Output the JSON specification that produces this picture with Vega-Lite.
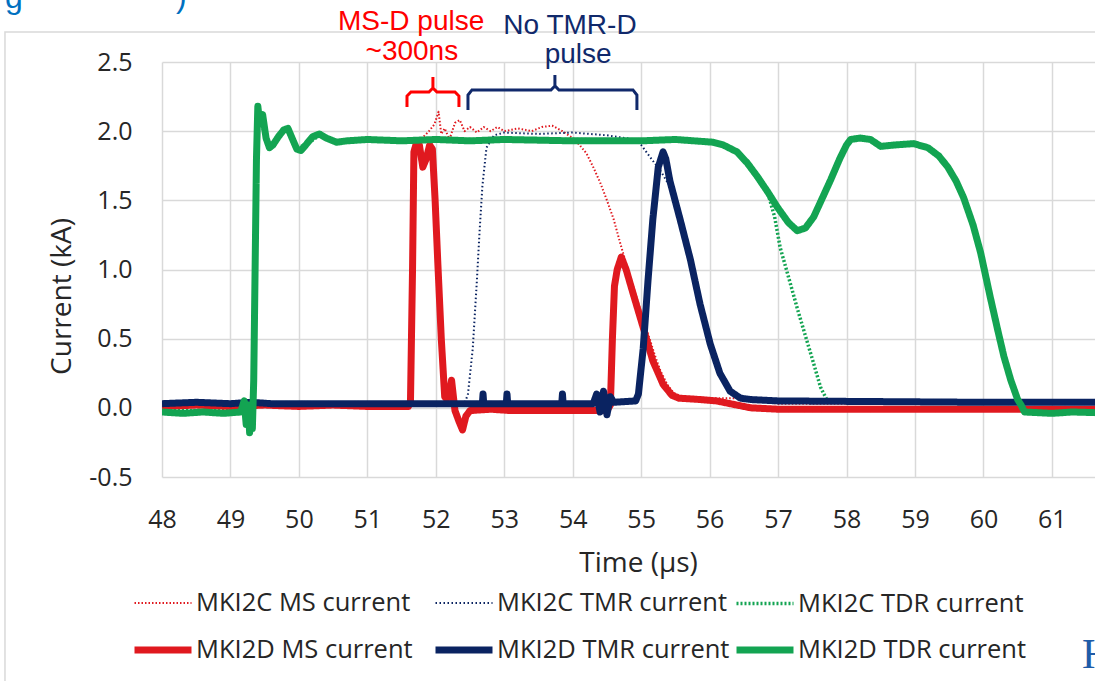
{
  "$schema": "https://vega.github.io/schema/vega-lite/v6.json",
  "width": 933,
  "height": 415,
  "autosize": {"type": "none"},
  "padding": {"left": 162, "top": 62, "right": 0, "bottom": 204},
  "background": "#ffffff",
  "config": {
    "view": {"stroke": null},
    "axis": {
      "domain": false,
      "ticks": false,
      "tickSize": 0,
      "grid": true,
      "gridColor": "#D9D9D9",
      "gridWidth": 1.5,
      "labelFont": "Open Sans",
      "labelFontSize": 25,
      "labelColor": "#262626",
      "labelFlush": false,
      "labelOverlap": false,
      "titleFont": "Open Sans",
      "titleFontSize": 28,
      "titleFontWeight": "normal",
      "titleColor": "#262626"
    }
  },
  "datasets": {
    "traces": [
      {"s": "MKI2C MS current", "t": 48.0, "v": 0.02},
      {"s": "MKI2C MS current", "t": 49.0, "v": 0.02},
      {"s": "MKI2C MS current", "t": 50.0, "v": 0.02},
      {"s": "MKI2C MS current", "t": 51.0, "v": 0.02},
      {"s": "MKI2C MS current", "t": 51.6, "v": 0.02},
      {"s": "MKI2C MS current", "t": 51.66, "v": 0.8},
      {"s": "MKI2C MS current", "t": 51.7, "v": 1.88},
      {"s": "MKI2C MS current", "t": 51.8, "v": 1.95},
      {"s": "MKI2C MS current", "t": 51.9, "v": 2.0},
      {"s": "MKI2C MS current", "t": 51.98, "v": 2.05},
      {"s": "MKI2C MS current", "t": 52.04, "v": 2.14},
      {"s": "MKI2C MS current", "t": 52.08, "v": 1.98},
      {"s": "MKI2C MS current", "t": 52.13, "v": 2.02},
      {"s": "MKI2C MS current", "t": 52.2, "v": 1.94},
      {"s": "MKI2C MS current", "t": 52.28, "v": 2.06},
      {"s": "MKI2C MS current", "t": 52.35, "v": 2.08},
      {"s": "MKI2C MS current", "t": 52.42, "v": 2.0},
      {"s": "MKI2C MS current", "t": 52.5, "v": 2.03},
      {"s": "MKI2C MS current", "t": 52.6, "v": 1.99},
      {"s": "MKI2C MS current", "t": 52.7, "v": 2.03},
      {"s": "MKI2C MS current", "t": 52.8, "v": 2.0},
      {"s": "MKI2C MS current", "t": 52.9, "v": 2.03},
      {"s": "MKI2C MS current", "t": 53.0, "v": 2.0},
      {"s": "MKI2C MS current", "t": 53.2, "v": 2.02},
      {"s": "MKI2C MS current", "t": 53.4, "v": 2.0},
      {"s": "MKI2C MS current", "t": 53.55, "v": 2.03},
      {"s": "MKI2C MS current", "t": 53.7, "v": 2.04},
      {"s": "MKI2C MS current", "t": 53.85, "v": 2.0},
      {"s": "MKI2C MS current", "t": 54.0, "v": 1.95},
      {"s": "MKI2C MS current", "t": 54.1, "v": 1.9},
      {"s": "MKI2C MS current", "t": 54.2, "v": 1.84},
      {"s": "MKI2C MS current", "t": 54.3, "v": 1.74},
      {"s": "MKI2C MS current", "t": 54.4, "v": 1.63},
      {"s": "MKI2C MS current", "t": 54.5, "v": 1.5},
      {"s": "MKI2C MS current", "t": 54.6, "v": 1.36},
      {"s": "MKI2C MS current", "t": 54.7, "v": 1.18},
      {"s": "MKI2C MS current", "t": 54.8, "v": 1.01},
      {"s": "MKI2C MS current", "t": 54.9, "v": 0.85},
      {"s": "MKI2C MS current", "t": 54.98, "v": 0.72},
      {"s": "MKI2C MS current", "t": 55.05, "v": 0.6},
      {"s": "MKI2C MS current", "t": 55.13, "v": 0.49},
      {"s": "MKI2C MS current", "t": 55.2, "v": 0.38},
      {"s": "MKI2C MS current", "t": 55.28, "v": 0.27},
      {"s": "MKI2C MS current", "t": 55.38, "v": 0.17},
      {"s": "MKI2C MS current", "t": 55.47, "v": 0.11},
      {"s": "MKI2C MS current", "t": 55.6, "v": 0.08},
      {"s": "MKI2C MS current", "t": 56.0, "v": 0.07},
      {"s": "MKI2C MS current", "t": 56.4, "v": 0.07},
      {"s": "MKI2C MS current", "t": 56.7, "v": 0.05},
      {"s": "MKI2C MS current", "t": 57.0, "v": 0.03},
      {"s": "MKI2C MS current", "t": 62.0, "v": 0.03},

      {"s": "MKI2C TMR current", "t": 48.0, "v": 0.03},
      {"s": "MKI2C TMR current", "t": 50.0, "v": 0.03},
      {"s": "MKI2C TMR current", "t": 52.0, "v": 0.03},
      {"s": "MKI2C TMR current", "t": 52.42, "v": 0.03},
      {"s": "MKI2C TMR current", "t": 52.47, "v": 0.1},
      {"s": "MKI2C TMR current", "t": 52.54, "v": 0.43},
      {"s": "MKI2C TMR current", "t": 52.6, "v": 0.92},
      {"s": "MKI2C TMR current", "t": 52.64, "v": 1.28},
      {"s": "MKI2C TMR current", "t": 52.68, "v": 1.6},
      {"s": "MKI2C TMR current", "t": 52.74, "v": 1.88},
      {"s": "MKI2C TMR current", "t": 52.85, "v": 1.97},
      {"s": "MKI2C TMR current", "t": 53.0, "v": 1.99},
      {"s": "MKI2C TMR current", "t": 53.5, "v": 1.98},
      {"s": "MKI2C TMR current", "t": 54.0, "v": 1.99},
      {"s": "MKI2C TMR current", "t": 54.5, "v": 1.97},
      {"s": "MKI2C TMR current", "t": 54.9, "v": 1.94},
      {"s": "MKI2C TMR current", "t": 55.0, "v": 1.9},
      {"s": "MKI2C TMR current", "t": 55.15, "v": 1.8},
      {"s": "MKI2C TMR current", "t": 55.3, "v": 1.7},
      {"s": "MKI2C TMR current", "t": 55.42, "v": 1.6},
      {"s": "MKI2C TMR current", "t": 55.57, "v": 1.34},
      {"s": "MKI2C TMR current", "t": 55.72, "v": 1.05},
      {"s": "MKI2C TMR current", "t": 55.86, "v": 0.74},
      {"s": "MKI2C TMR current", "t": 56.01, "v": 0.45},
      {"s": "MKI2C TMR current", "t": 56.15, "v": 0.24},
      {"s": "MKI2C TMR current", "t": 56.3, "v": 0.11},
      {"s": "MKI2C TMR current", "t": 56.45, "v": 0.07},
      {"s": "MKI2C TMR current", "t": 56.6, "v": 0.06},
      {"s": "MKI2C TMR current", "t": 58.0, "v": 0.05},
      {"s": "MKI2C TMR current", "t": 62.0, "v": 0.05},

      {"s": "MKI2C TDR current", "t": 48.0, "v": -0.02},
      {"s": "MKI2C TDR current", "t": 49.15, "v": -0.02},
      {"s": "MKI2C TDR current", "t": 49.3, "v": -0.1},
      {"s": "MKI2C TDR current", "t": 49.34, "v": 0.2},
      {"s": "MKI2C TDR current", "t": 49.36, "v": 1.0},
      {"s": "MKI2C TDR current", "t": 49.38, "v": 1.8},
      {"s": "MKI2C TDR current", "t": 49.4, "v": 2.15},
      {"s": "MKI2C TDR current", "t": 49.45, "v": 2.05},
      {"s": "MKI2C TDR current", "t": 49.52, "v": 1.96},
      {"s": "MKI2C TDR current", "t": 49.57, "v": 1.89},
      {"s": "MKI2C TDR current", "t": 49.7, "v": 1.96},
      {"s": "MKI2C TDR current", "t": 49.82, "v": 2.01},
      {"s": "MKI2C TDR current", "t": 49.97, "v": 1.88},
      {"s": "MKI2C TDR current", "t": 50.1, "v": 1.9},
      {"s": "MKI2C TDR current", "t": 50.3, "v": 1.97},
      {"s": "MKI2C TDR current", "t": 50.5, "v": 1.93},
      {"s": "MKI2C TDR current", "t": 52.0, "v": 1.94},
      {"s": "MKI2C TDR current", "t": 54.0, "v": 1.94},
      {"s": "MKI2C TDR current", "t": 56.05, "v": 1.93},
      {"s": "MKI2C TDR current", "t": 56.4, "v": 1.86},
      {"s": "MKI2C TDR current", "t": 56.7, "v": 1.68},
      {"s": "MKI2C TDR current", "t": 56.84, "v": 1.57},
      {"s": "MKI2C TDR current", "t": 56.95, "v": 1.38},
      {"s": "MKI2C TDR current", "t": 57.03, "v": 1.16},
      {"s": "MKI2C TDR current", "t": 57.15, "v": 0.95},
      {"s": "MKI2C TDR current", "t": 57.28, "v": 0.72},
      {"s": "MKI2C TDR current", "t": 57.4, "v": 0.52},
      {"s": "MKI2C TDR current", "t": 57.52, "v": 0.32},
      {"s": "MKI2C TDR current", "t": 57.62, "v": 0.15},
      {"s": "MKI2C TDR current", "t": 57.72, "v": 0.05},
      {"s": "MKI2C TDR current", "t": 57.8, "v": 0.04},
      {"s": "MKI2C TDR current", "t": 62.0, "v": 0.04},

      {"s": "MKI2D MS current", "t": 48.0, "v": 0.01},
      {"s": "MKI2D MS current", "t": 48.5, "v": 0.02},
      {"s": "MKI2D MS current", "t": 49.0, "v": 0.01},
      {"s": "MKI2D MS current", "t": 49.5, "v": 0.02},
      {"s": "MKI2D MS current", "t": 50.0, "v": 0.01},
      {"s": "MKI2D MS current", "t": 50.5, "v": 0.02},
      {"s": "MKI2D MS current", "t": 51.0, "v": 0.01},
      {"s": "MKI2D MS current", "t": 51.6, "v": 0.01},
      {"s": "MKI2D MS current", "t": 51.63, "v": 0.05},
      {"s": "MKI2D MS current", "t": 51.66, "v": 1.0},
      {"s": "MKI2D MS current", "t": 51.68, "v": 1.85},
      {"s": "MKI2D MS current", "t": 51.72, "v": 1.92},
      {"s": "MKI2D MS current", "t": 51.76, "v": 1.9},
      {"s": "MKI2D MS current", "t": 51.81, "v": 1.74},
      {"s": "MKI2D MS current", "t": 51.86, "v": 1.8},
      {"s": "MKI2D MS current", "t": 51.91, "v": 1.9},
      {"s": "MKI2D MS current", "t": 51.95, "v": 1.87},
      {"s": "MKI2D MS current", "t": 51.99, "v": 1.5},
      {"s": "MKI2D MS current", "t": 52.03, "v": 1.04},
      {"s": "MKI2D MS current", "t": 52.08, "v": 0.5},
      {"s": "MKI2D MS current", "t": 52.13, "v": 0.08},
      {"s": "MKI2D MS current", "t": 52.18, "v": 0.05},
      {"s": "MKI2D MS current", "t": 52.23, "v": 0.2},
      {"s": "MKI2D MS current", "t": 52.28, "v": -0.02},
      {"s": "MKI2D MS current", "t": 52.34, "v": -0.1},
      {"s": "MKI2D MS current", "t": 52.39, "v": -0.16},
      {"s": "MKI2D MS current", "t": 52.44, "v": -0.06},
      {"s": "MKI2D MS current", "t": 52.5, "v": -0.02},
      {"s": "MKI2D MS current", "t": 52.8, "v": -0.01},
      {"s": "MKI2D MS current", "t": 53.1, "v": -0.02},
      {"s": "MKI2D MS current", "t": 53.5, "v": -0.02},
      {"s": "MKI2D MS current", "t": 54.0, "v": -0.02},
      {"s": "MKI2D MS current", "t": 54.5, "v": -0.02},
      {"s": "MKI2D MS current", "t": 54.55, "v": 0.02},
      {"s": "MKI2D MS current", "t": 54.58, "v": 0.5},
      {"s": "MKI2D MS current", "t": 54.61, "v": 0.88},
      {"s": "MKI2D MS current", "t": 54.65, "v": 1.0},
      {"s": "MKI2D MS current", "t": 54.71, "v": 1.09},
      {"s": "MKI2D MS current", "t": 54.78, "v": 1.0},
      {"s": "MKI2D MS current", "t": 54.88, "v": 0.83},
      {"s": "MKI2D MS current", "t": 55.03, "v": 0.58},
      {"s": "MKI2D MS current", "t": 55.17, "v": 0.34},
      {"s": "MKI2D MS current", "t": 55.32, "v": 0.17},
      {"s": "MKI2D MS current", "t": 55.45, "v": 0.09},
      {"s": "MKI2D MS current", "t": 55.55, "v": 0.07},
      {"s": "MKI2D MS current", "t": 55.86, "v": 0.06},
      {"s": "MKI2D MS current", "t": 56.1, "v": 0.05},
      {"s": "MKI2D MS current", "t": 56.4, "v": 0.02},
      {"s": "MKI2D MS current", "t": 56.6, "v": 0.0},
      {"s": "MKI2D MS current", "t": 57.0, "v": -0.01},
      {"s": "MKI2D MS current", "t": 62.0, "v": -0.01},

      {"s": "MKI2D TMR current", "t": 48.0, "v": 0.03},
      {"s": "MKI2D TMR current", "t": 48.5, "v": 0.04},
      {"s": "MKI2D TMR current", "t": 49.0, "v": 0.03},
      {"s": "MKI2D TMR current", "t": 49.3, "v": 0.04},
      {"s": "MKI2D TMR current", "t": 49.6, "v": 0.03},
      {"s": "MKI2D TMR current", "t": 52.68, "v": 0.03},
      {"s": "MKI2D TMR current", "t": 52.69, "v": 0.1},
      {"s": "MKI2D TMR current", "t": 52.7, "v": 0.03},
      {"s": "MKI2D TMR current", "t": 53.03, "v": 0.03},
      {"s": "MKI2D TMR current", "t": 53.04, "v": 0.1},
      {"s": "MKI2D TMR current", "t": 53.05, "v": 0.03},
      {"s": "MKI2D TMR current", "t": 53.84, "v": 0.03},
      {"s": "MKI2D TMR current", "t": 53.85, "v": 0.1},
      {"s": "MKI2D TMR current", "t": 53.86, "v": 0.03},
      {"s": "MKI2D TMR current", "t": 54.3, "v": 0.03},
      {"s": "MKI2D TMR current", "t": 54.35, "v": 0.1},
      {"s": "MKI2D TMR current", "t": 54.4, "v": -0.03},
      {"s": "MKI2D TMR current", "t": 54.45, "v": 0.12},
      {"s": "MKI2D TMR current", "t": 54.5, "v": -0.05},
      {"s": "MKI2D TMR current", "t": 54.55, "v": 0.08},
      {"s": "MKI2D TMR current", "t": 54.6, "v": 0.04},
      {"s": "MKI2D TMR current", "t": 54.92, "v": 0.05},
      {"s": "MKI2D TMR current", "t": 54.96, "v": 0.1},
      {"s": "MKI2D TMR current", "t": 55.03, "v": 0.43},
      {"s": "MKI2D TMR current", "t": 55.1, "v": 0.92},
      {"s": "MKI2D TMR current", "t": 55.17, "v": 1.36},
      {"s": "MKI2D TMR current", "t": 55.25, "v": 1.74},
      {"s": "MKI2D TMR current", "t": 55.32, "v": 1.85},
      {"s": "MKI2D TMR current", "t": 55.36, "v": 1.8},
      {"s": "MKI2D TMR current", "t": 55.42, "v": 1.64},
      {"s": "MKI2D TMR current", "t": 55.57, "v": 1.36},
      {"s": "MKI2D TMR current", "t": 55.72, "v": 1.07},
      {"s": "MKI2D TMR current", "t": 55.86, "v": 0.75},
      {"s": "MKI2D TMR current", "t": 56.01, "v": 0.46},
      {"s": "MKI2D TMR current", "t": 56.15, "v": 0.25},
      {"s": "MKI2D TMR current", "t": 56.3, "v": 0.12},
      {"s": "MKI2D TMR current", "t": 56.45, "v": 0.07},
      {"s": "MKI2D TMR current", "t": 56.6, "v": 0.06},
      {"s": "MKI2D TMR current", "t": 57.0, "v": 0.05},
      {"s": "MKI2D TMR current", "t": 60.0, "v": 0.04},
      {"s": "MKI2D TMR current", "t": 62.0, "v": 0.04},

      {"s": "MKI2D TDR current", "t": 48.0, "v": -0.03},
      {"s": "MKI2D TDR current", "t": 48.3, "v": -0.04},
      {"s": "MKI2D TDR current", "t": 48.6, "v": -0.03},
      {"s": "MKI2D TDR current", "t": 48.9, "v": -0.04},
      {"s": "MKI2D TDR current", "t": 49.15, "v": -0.03},
      {"s": "MKI2D TDR current", "t": 49.2, "v": 0.05},
      {"s": "MKI2D TDR current", "t": 49.23, "v": -0.12},
      {"s": "MKI2D TDR current", "t": 49.26, "v": 0.02},
      {"s": "MKI2D TDR current", "t": 49.28, "v": -0.18},
      {"s": "MKI2D TDR current", "t": 49.3, "v": -0.05},
      {"s": "MKI2D TDR current", "t": 49.32, "v": -0.15},
      {"s": "MKI2D TDR current", "t": 49.34, "v": 0.2},
      {"s": "MKI2D TDR current", "t": 49.36, "v": 1.0},
      {"s": "MKI2D TDR current", "t": 49.38, "v": 1.8},
      {"s": "MKI2D TDR current", "t": 49.4, "v": 2.18},
      {"s": "MKI2D TDR current", "t": 49.43, "v": 2.05},
      {"s": "MKI2D TDR current", "t": 49.47, "v": 2.12},
      {"s": "MKI2D TDR current", "t": 49.52, "v": 1.95},
      {"s": "MKI2D TDR current", "t": 49.57, "v": 1.88},
      {"s": "MKI2D TDR current", "t": 49.62, "v": 1.9},
      {"s": "MKI2D TDR current", "t": 49.7, "v": 1.96},
      {"s": "MKI2D TDR current", "t": 49.78, "v": 2.01},
      {"s": "MKI2D TDR current", "t": 49.84, "v": 2.02},
      {"s": "MKI2D TDR current", "t": 49.9, "v": 1.95},
      {"s": "MKI2D TDR current", "t": 49.97, "v": 1.87},
      {"s": "MKI2D TDR current", "t": 50.03, "v": 1.86},
      {"s": "MKI2D TDR current", "t": 50.1, "v": 1.9},
      {"s": "MKI2D TDR current", "t": 50.2, "v": 1.96},
      {"s": "MKI2D TDR current", "t": 50.3, "v": 1.98},
      {"s": "MKI2D TDR current", "t": 50.4, "v": 1.95},
      {"s": "MKI2D TDR current", "t": 50.55, "v": 1.92},
      {"s": "MKI2D TDR current", "t": 50.7, "v": 1.93},
      {"s": "MKI2D TDR current", "t": 51.0, "v": 1.94},
      {"s": "MKI2D TDR current", "t": 51.5, "v": 1.93},
      {"s": "MKI2D TDR current", "t": 52.0, "v": 1.94},
      {"s": "MKI2D TDR current", "t": 52.5, "v": 1.93},
      {"s": "MKI2D TDR current", "t": 53.0, "v": 1.94},
      {"s": "MKI2D TDR current", "t": 54.0, "v": 1.93},
      {"s": "MKI2D TDR current", "t": 55.0, "v": 1.93},
      {"s": "MKI2D TDR current", "t": 55.5, "v": 1.94},
      {"s": "MKI2D TDR current", "t": 56.05, "v": 1.92},
      {"s": "MKI2D TDR current", "t": 56.2, "v": 1.9},
      {"s": "MKI2D TDR current", "t": 56.4, "v": 1.85},
      {"s": "MKI2D TDR current", "t": 56.55, "v": 1.77},
      {"s": "MKI2D TDR current", "t": 56.7, "v": 1.67},
      {"s": "MKI2D TDR current", "t": 56.85, "v": 1.56},
      {"s": "MKI2D TDR current", "t": 56.99, "v": 1.45},
      {"s": "MKI2D TDR current", "t": 57.15, "v": 1.34},
      {"s": "MKI2D TDR current", "t": 57.28, "v": 1.28},
      {"s": "MKI2D TDR current", "t": 57.4, "v": 1.3},
      {"s": "MKI2D TDR current", "t": 57.52, "v": 1.38},
      {"s": "MKI2D TDR current", "t": 57.65, "v": 1.52},
      {"s": "MKI2D TDR current", "t": 57.77, "v": 1.65},
      {"s": "MKI2D TDR current", "t": 57.9, "v": 1.8},
      {"s": "MKI2D TDR current", "t": 58.0, "v": 1.9},
      {"s": "MKI2D TDR current", "t": 58.06, "v": 1.94},
      {"s": "MKI2D TDR current", "t": 58.2, "v": 1.95},
      {"s": "MKI2D TDR current", "t": 58.35, "v": 1.94},
      {"s": "MKI2D TDR current", "t": 58.5, "v": 1.89},
      {"s": "MKI2D TDR current", "t": 58.7, "v": 1.9},
      {"s": "MKI2D TDR current", "t": 58.98, "v": 1.91},
      {"s": "MKI2D TDR current", "t": 59.19, "v": 1.88},
      {"s": "MKI2D TDR current", "t": 59.35, "v": 1.82},
      {"s": "MKI2D TDR current", "t": 59.48, "v": 1.74},
      {"s": "MKI2D TDR current", "t": 59.6, "v": 1.64},
      {"s": "MKI2D TDR current", "t": 59.71, "v": 1.52},
      {"s": "MKI2D TDR current", "t": 59.85, "v": 1.32},
      {"s": "MKI2D TDR current", "t": 59.96, "v": 1.12},
      {"s": "MKI2D TDR current", "t": 60.1, "v": 0.8},
      {"s": "MKI2D TDR current", "t": 60.21, "v": 0.56},
      {"s": "MKI2D TDR current", "t": 60.3, "v": 0.37},
      {"s": "MKI2D TDR current", "t": 60.4, "v": 0.2},
      {"s": "MKI2D TDR current", "t": 60.5, "v": 0.06},
      {"s": "MKI2D TDR current", "t": 60.55, "v": 0.02},
      {"s": "MKI2D TDR current", "t": 60.6, "v": -0.03},
      {"s": "MKI2D TDR current", "t": 61.0, "v": -0.04},
      {"s": "MKI2D TDR current", "t": 61.3, "v": -0.03},
      {"s": "MKI2D TDR current", "t": 62.0, "v": -0.04}
    ],
    "msNote": [
      {"t": 51.64, "v": 2.731, "note": "MS-D pulse"},
      {"t": 51.65, "v": 2.514, "note": "~300ns"}
    ],
    "tmrNote": [
      {"t": 53.96, "v": 2.7, "note": "No TMR-D"},
      {"t": 54.08, "v": 2.493, "note": "pulse"}
    ],
    "msBrace": [
      {"i": 0, "t": 51.579, "v": 2.175},
      {"i": 1, "t": 51.579, "v": 2.254},
      {"i": 2, "t": 51.637, "v": 2.283},
      {"i": 3, "t": 51.9, "v": 2.283},
      {"i": 4, "t": 51.958, "v": 2.312},
      {"i": 5, "t": 51.958, "v": 2.392},
      {"i": 6, "t": 51.958, "v": 2.312},
      {"i": 7, "t": 52.017, "v": 2.283},
      {"i": 8, "t": 52.28, "v": 2.283},
      {"i": 9, "t": 52.338, "v": 2.254},
      {"i": 10, "t": 52.338, "v": 2.175}
    ],
    "tmrBrace": [
      {"i": 0, "t": 52.47, "v": 2.153},
      {"i": 1, "t": 52.47, "v": 2.261},
      {"i": 2, "t": 52.528, "v": 2.298},
      {"i": 3, "t": 53.682, "v": 2.298},
      {"i": 4, "t": 53.74, "v": 2.327},
      {"i": 5, "t": 53.74, "v": 2.406},
      {"i": 6, "t": 53.74, "v": 2.327},
      {"i": 7, "t": 53.799, "v": 2.298},
      {"i": 8, "t": 54.88, "v": 2.298},
      {"i": 9, "t": 54.938, "v": 2.261},
      {"i": 10, "t": 54.938, "v": 2.153}
    ],
    "slideText": [
      {"t": 45.706, "v": 2.89, "note": "g"},
      {"t": 48.205, "v": 2.898, "note": ")"}
    ],
    "pageText": [
      {"t": 61.44, "v": -1.881, "note": "H"}
    ]
  },
  "layer": [
    {
      "data": {"values": [{}]},
      "mark": {"type": "rect", "filled": false, "stroke": "#D9D9D9", "strokeWidth": 1.5, "clip": false},
      "encoding": {
        "x": {"datum": 45.706, "type": "quantitative"},
        "x2": {"datum": 75},
        "y": {"datum": 2.717, "type": "quantitative"},
        "y2": {"datum": -4}
      }
    },
    {
      "data": {"name": "traces"},
      "mark": {"type": "line", "clip": true, "strokeJoin": "round"},
      "encoding": {
        "x": {
          "field": "t",
          "type": "quantitative",
          "title": "Time (µs)",
          "scale": {"domain": [48, 61.63], "nice": false, "zero": false},
          "axis": {
            "values": [48, 49, 50, 51, 52, 53, 54, 55, 56, 57, 58, 59, 60, 61],
            "format": "d",
            "labelPadding": 30,
            "titleX": 476,
            "titleY": 94,
            "titleBaseline": "alphabetic"
          }
        },
        "y": {
          "field": "v",
          "type": "quantitative",
          "title": "Current (kA)",
          "scale": {"domain": [-0.5, 2.5], "nice": false, "zero": false},
          "axis": {
            "values": [-0.5, 0, 0.5, 1, 1.5, 2, 2.5],
            "format": ".1f",
            "labelExpr": "replace(datum.label, '\u2212', '-')",
            "labelPadding": 30,
            "titleX": -92,
            "titleY": 234,
            "titleBaseline": "alphabetic"
          }
        },
        "color": {
          "field": "s",
          "type": "nominal",
          "scale": {
            "domain": ["MKI2C MS current", "MKI2C TMR current", "MKI2C TDR current", "MKI2D MS current", "MKI2D TMR current", "MKI2D TDR current"],
            "range": ["#E0191F", "#0A2361", "#13A452", "#E0191F", "#0A2361", "#13A452"]
          },
          "legend": {
            "title": null,
            "orient": "none",
            "legendX": -31,
            "legendY": 510,
            "direction": "horizontal",
            "columns": 3,
            "gridAlign": "all",
            "columnPadding": -8,
            "rowPadding": -13,
            "symbolType": "stroke",
            "symbolSize": 3249,
            "labelFont": "Open Sans",
            "labelFontSize": 25.5,
            "labelColor": "#262626",
            "labelOffset": 1,
            "labelLimit": 400
          }
        },
        "strokeDash": {
          "field": "s",
          "type": "nominal",
          "scale": {
            "domain": ["MKI2C MS current", "MKI2C TMR current", "MKI2C TDR current", "MKI2D MS current", "MKI2D TMR current", "MKI2D TDR current"],
            "range": [[1.5, 2], [1.5, 2.5], [2, 2], [1, 0], [1, 0], [1, 0]]
          },
          "legend": null
        },
        "strokeWidth": {
          "field": "s",
          "type": "nominal",
          "scale": {
            "type": "ordinal",
            "domain": ["MKI2C MS current", "MKI2C TMR current", "MKI2C TDR current", "MKI2D MS current", "MKI2D TMR current", "MKI2D TDR current"],
            "range": [2, 2, 3.5, 7, 7, 7]
          },
          "legend": null
        }
      }
    },
    {
      "data": {"name": "msBrace"},
      "mark": {"type": "line", "color": "#FF0000", "strokeWidth": 3, "clip": false},
      "encoding": {
        "x": {"field": "t", "type": "quantitative"},
        "y": {"field": "v", "type": "quantitative"},
        "order": {"field": "i", "type": "quantitative"}
      }
    },
    {
      "data": {"name": "tmrBrace"},
      "mark": {"type": "line", "color": "#10296B", "strokeWidth": 3, "clip": false},
      "encoding": {
        "x": {"field": "t", "type": "quantitative"},
        "y": {"field": "v", "type": "quantitative"},
        "order": {"field": "i", "type": "quantitative"}
      }
    },
    {
      "data": {"name": "msNote"},
      "mark": {"type": "text", "font": "Liberation Sans", "fontSize": 28, "color": "#FF0000", "align": "center", "baseline": "alphabetic"},
      "encoding": {
        "x": {"field": "t", "type": "quantitative"},
        "y": {"field": "v", "type": "quantitative"},
        "text": {"field": "note"}
      }
    },
    {
      "data": {"name": "tmrNote"},
      "mark": {"type": "text", "font": "Liberation Sans", "fontSize": 28, "color": "#10296B", "align": "center", "baseline": "alphabetic"},
      "encoding": {
        "x": {"field": "t", "type": "quantitative"},
        "y": {"field": "v", "type": "quantitative"},
        "text": {"field": "note"}
      }
    },
    {
      "data": {"name": "slideText"},
      "mark": {"type": "text", "font": "Liberation Sans", "fontSize": 32, "color": "#0070C0", "align": "left", "baseline": "alphabetic"},
      "encoding": {
        "x": {"field": "t", "type": "quantitative"},
        "y": {"field": "v", "type": "quantitative"},
        "text": {"field": "note"}
      }
    },
    {
      "data": {"name": "pageText"},
      "mark": {"type": "text", "font": "Liberation Serif", "fontSize": 42, "color": "#1F5CA8", "align": "left", "baseline": "alphabetic"},
      "encoding": {
        "x": {"field": "t", "type": "quantitative"},
        "y": {"field": "v", "type": "quantitative"},
        "text": {"field": "note"}
      }
    }
  ]
}
